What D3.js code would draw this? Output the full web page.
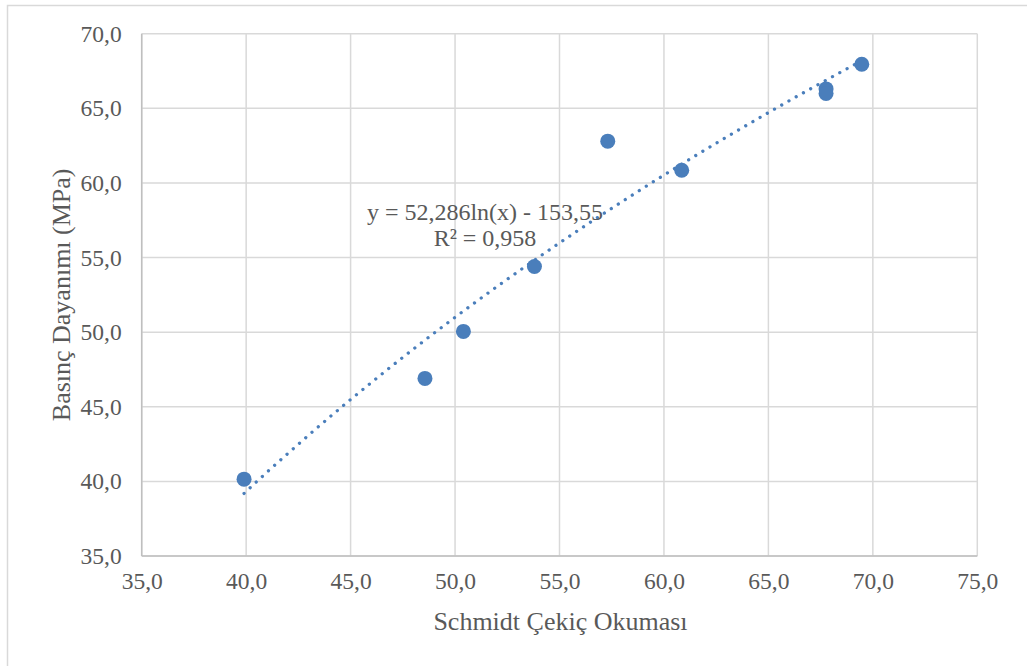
<!DOCTYPE html>
<html><head><meta charset="utf-8">
<script src="https://cdn.jsdelivr.net/npm/d3@7"></script>
<style>body{margin:0;background:#fff}svg{display:block}</style>
</head><body>
<script>
const xValues = [39.9, 48.56, 50.4, 53.8, 57.31, 60.85, 67.76, 67.76, 69.47];
const yValues = [40.15, 46.9, 50.05, 54.4, 62.8, 60.85, 66.3, 66.0, 67.95];
const xTicks = [35, 40, 45, 50, 55, 60, 65, 70, 75];
const yTicks = [35, 40, 45, 50, 55, 60, 65, 70];
const trendA = 52.286, trendB = -153.55;
const eqLines = ["y = 52,286ln(x) - 153,55", "R² = 0,958"];
const xTitle = "Schmidt Çekiç Okuması";
const yTitle = "Basınç Dayanımı (MPa)";

const W = 1027, H = 666;
const m = {left: 141.7, right: 977.3, top: 33.7, bottom: 556};
const fmt = d => d.toFixed(1).replace(".", ",");
const svg = d3.select("body").append("svg").attr("width", W).attr("height", H);
svg.append("rect").attr("x", 7.5).attr("y", 5.5).attr("width", W).attr("height", H)
  .attr("fill", "#fff").attr("stroke", "#d9d9d9").attr("stroke-width", 1.5);

const x = d3.scaleLinear().domain([35, 75]).range([m.left, m.right]);
const y = d3.scaleLinear().domain([35, 70]).range([m.bottom, m.top]);
const font = "'Liberation Serif','Times New Roman',serif";

// gridlines
svg.append("g").selectAll("line").data(xTicks).join("line")
  .attr("x1", d => x(d)).attr("x2", d => x(d)).attr("y1", m.top).attr("y2", m.bottom)
  .attr("stroke", "#d9d9d9").attr("stroke-width", 1.5);
svg.append("g").selectAll("line").data(yTicks).join("line")
  .attr("x1", m.left).attr("x2", m.right).attr("y1", d => y(d)).attr("y2", d => y(d))
  .attr("stroke", "#d9d9d9").attr("stroke-width", 1.5);
// axes lines
svg.append("line").attr("x1", m.left).attr("x2", m.right).attr("y1", m.bottom).attr("y2", m.bottom)
  .attr("stroke", "#bfbfbf").attr("stroke-width", 1.5);
svg.append("line").attr("x1", m.left).attr("x2", m.left).attr("y1", m.top).attr("y2", m.bottom)
  .attr("stroke", "#bfbfbf").attr("stroke-width", 1.5);

// axis tick labels via d3 axes
const xAxis = svg.append("g").attr("transform", `translate(0,${m.bottom})`)
  .call(d3.axisBottom(x).tickValues(xTicks).tickFormat(fmt).tickSize(0).tickPadding(16));
const yAxis = svg.append("g").attr("transform", `translate(${m.left},0)`)
  .call(d3.axisLeft(y).tickValues(yTicks).tickFormat(fmt).tickSize(0).tickPadding(20));
[xAxis, yAxis].forEach(g => {
  g.select(".domain").remove();
  g.selectAll("text").attr("font-family", font).attr("font-size", 23.5).attr("fill", "#595959");
});

// trendline
const xs = d3.range(d3.min(xValues), d3.max(xValues) + 0.001, 0.1);
const line = d3.line().x(d => x(d)).y(d => y(trendA * Math.log(d) + trendB));
svg.append("path").datum(xs).attr("d", line).attr("fill", "none")
  .attr("stroke", "#4a7ebb").attr("stroke-width", 3.3)
  .attr("stroke-linecap", "round").attr("stroke-dasharray", "0.01 8.3");

// points
svg.append("g").selectAll("circle").data(xValues).join("circle")
  .attr("cx", d => x(d)).attr("cy", (d, i) => y(yValues[i])).attr("r", 7.5)
  .attr("fill", "#4a7ebb");

// equation
svg.append("text").attr("x", 485).attr("y", 220).attr("text-anchor", "middle")
  .attr("font-family", font).attr("font-size", 24).attr("fill", "#595959").text(eqLines[0]);
svg.append("text").attr("x", 485).attr("y", 246).attr("text-anchor", "middle")
  .attr("font-family", font).attr("font-size", 24).attr("fill", "#595959").text(eqLines[1]);

// titles
svg.append("text").attr("x", (m.left + m.right) / 2 + 1).attr("y", 630).attr("text-anchor", "middle")
  .attr("font-family", font).attr("font-size", 26).attr("fill", "#595959").text(xTitle);
svg.append("text").attr("transform", `translate(70,${(m.top + m.bottom) / 2}) rotate(-90)`)
  .attr("text-anchor", "middle")
  .attr("font-family", font).attr("font-size", 26).attr("fill", "#595959").text(yTitle);
</script>
</body></html>
